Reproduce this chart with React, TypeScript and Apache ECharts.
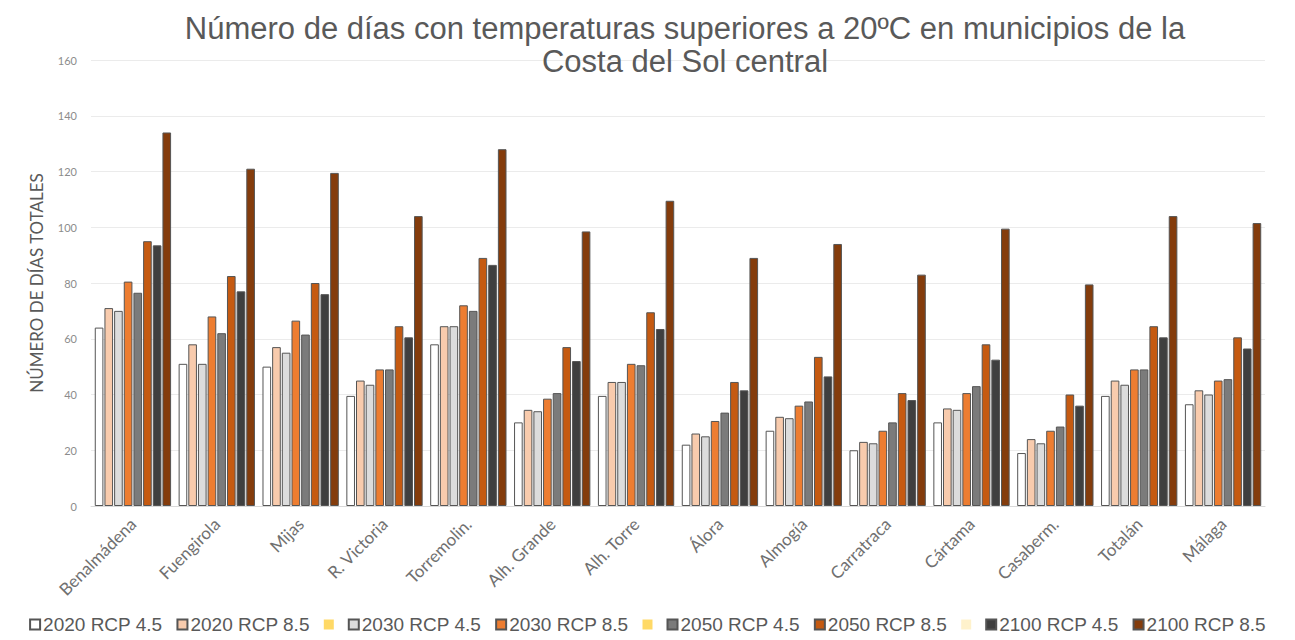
import React, { useEffect, useRef } from "react";
import * as echarts from "echarts";

const categories = [
  "Benalmádena", "Fuengirola", "Mijas", "R. Victoria", "Torremolin.", "Alh. Grande",
  "Alh. Torre", "Álora", "Almogía", "Carratraca", "Cártama", "Casaberm.", "Totalán", "Málaga",
];

const v2020_45 = [64, 51, 50, 39.5, 58, 30, 39.5, 22, 27, 20, 30, 19, 39.5, 36.5];
const v2020_85 = [71, 58, 57, 45, 64.5, 34.5, 44.5, 26, 32, 23, 35, 24, 45, 41.5];
const v2030_45 = [70, 51, 55, 43.5, 64.5, 34, 44.5, 25, 31.5, 22.5, 34.5, 22.5, 43.5, 40];
const v2030_85 = [80.5, 68, 66.5, 49, 72, 38.5, 51, 30.5, 36, 27, 40.5, 27, 49, 45];
const v2050_45 = [76.5, 62, 61.5, 49, 70, 40.5, 50.5, 33.5, 37.5, 30, 43, 28.5, 49, 45.5];
const v2050_85 = [95, 82.5, 80, 64.5, 89, 57, 69.5, 44.5, 53.5, 40.5, 58, 40, 64.5, 60.5];
const v2100_45 = [93.5, 77, 76, 60.5, 86.5, 52, 63.5, 41.5, 46.5, 38, 52.5, 36, 60.5, 56.5];
const v2100_85 = [134, 121, 119.5, 104, 128, 98.5, 109.5, 89, 94, 83, 99.5, 79.5, 104, 101.5];

const seriesNames = [
  "2020 RCP 4.5", "2020 RCP 8.5", "2030 RCP 4.5", "2030 RCP 8.5",
  "2050 RCP 4.5", "2050 RCP 8.5", "2100 RCP 4.5", "2100 RCP 8.5",
];
const seriesValues = [v2020_45, v2020_85, v2030_45, v2030_85, v2050_45, v2050_85, v2100_45, v2100_85];
const seriesColors = ["#ffffff", "#f8cbad", "#dcdcdc", "#ed7d31", "#7b7b7b", "#c55a11", "#3f3f3f", "#843c0c"];

// legend-only entries that carry no label in the reference
const blankNames = ["_blank1", "_blank2", "_blank3"];
const blankColors = ["#ffd966", "#ffd966", "#fff2cc"];

const legendOrder = [
  "2020 RCP 4.5", "2020 RCP 8.5", "_blank1", "2030 RCP 4.5", "2030 RCP 8.5", "_blank2",
  "2050 RCP 4.5", "2050 RCP 8.5", "_blank3", "2100 RCP 4.5", "2100 RCP 8.5",
];

const yTicks = { min: 0, max: 160, interval: 20 };

export default function App() {
  const ref = useRef<HTMLDivElement>(null);

  useEffect(() => {
    document.body.style.margin = "0";
    if (!ref.current) return;
    const chart = echarts.init(ref.current, null, { renderer: "svg" });

    const bars = seriesNames.map((name, i) => ({
      name,
      type: "bar",
      data: seriesValues[i],
      itemStyle: { color: seriesColors[i], borderColor: "#555555", borderWidth: 1 },
      barGap: "12%",
      barCategoryGap: "9%",
    }));

    const blanks = blankNames.map((name, i) => ({
      name,
      type: "bar",
      xAxisIndex: 1,
      yAxisIndex: 1,
      data: [],
      itemStyle: { color: blankColors[i] },
    }));

    chart.setOption({
      animation: false,
      backgroundColor: "#ffffff",
      title: {
        text: "Número de días con temperaturas superiores a 20ºC en municipios de la\nCosta del Sol central",
        left: 680,
        textAlign: "center",
        top: 7,
        textStyle: {
          fontFamily: "Liberation Sans",
          fontSize: 31,
          fontWeight: "normal",
          color: "#595959",
          lineHeight: 33,
        },
      },
      legend: {
        data: legendOrder,
        bottom: 1,
        left: "center",
        icon: "rect",
        itemWidth: 10,
        itemHeight: 10,
        itemGap: 14,
        selectedMode: false,
        formatter: (n: string) => (n.startsWith("_") ? "" : n),
        textStyle: { fontFamily: "Liberation Sans", fontSize: 19, color: "#595959", padding: [0, 0, 0, -2] },
      },
      grid: { left: 91, right: 30, top: 60, bottom: 134 },
      xAxis: [
        {
          type: "category",
          data: categories,
          axisTick: { show: false },
          axisLine: { lineStyle: { color: "#d9d9d9" } },
          axisLabel: {
            rotate: 45,
            fontFamily: "Lato",
            fontSize: 17,
            color: "#707070",
            margin: 15,
            interval: 0,
          },
        },
        { type: "category", data: [""], show: false },
      ],
      yAxis: [
        {
          type: "value",
          min: yTicks.min,
          max: yTicks.max,
          interval: yTicks.interval,
          name: "NÚMERO DE DÍAS TOTALES",
          nameLocation: "middle",
          nameGap: 46,
          nameTextStyle: { fontFamily: "Lato", fontSize: 17, color: "#595959" },
          axisLine: { show: false },
          axisTick: { show: false },
          axisLabel: { fontFamily: "Lato", fontSize: 11, color: "#8c8c8c", margin: 14 },
          splitLine: { lineStyle: { color: "#ebebeb" } },
        },
        { type: "value", show: false },
      ],
      series: [...bars, ...blanks],
    });

    return () => chart.dispose();
  }, []);

  return <div ref={ref} style={{ width: 1295, height: 640 }} />;
}
